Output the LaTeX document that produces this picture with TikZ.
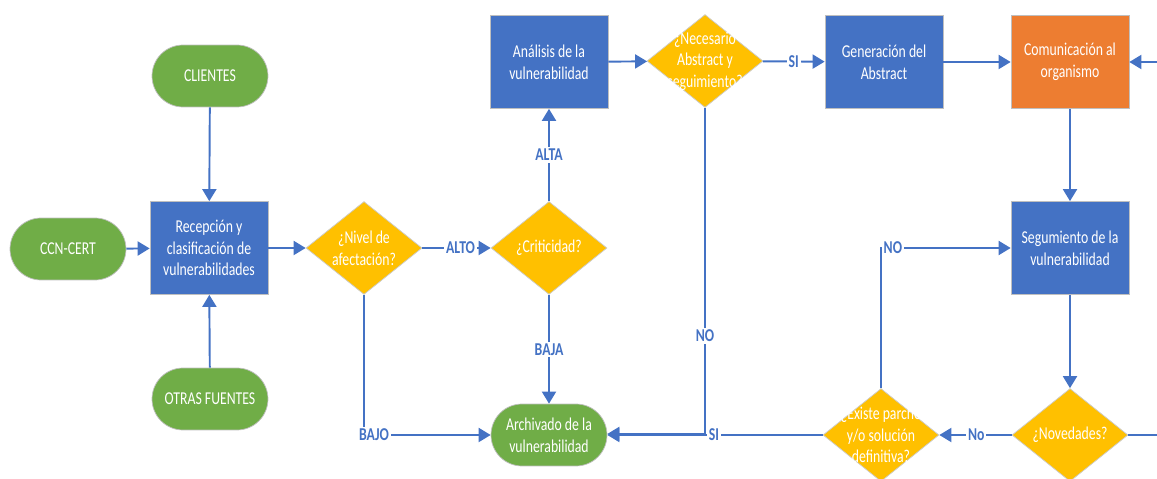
\documentclass[tikz,border=0pt]{standalone}
\usepackage{fontspec}
\setmainfont{Carlito}[FakeStretch=0.76]
\usetikzlibrary{shapes.geometric, arrows.meta}
\definecolor{msblue}{HTML}{4472C4}
\definecolor{msgreen}{HTML}{70AD47}
\definecolor{msyellow}{HTML}{FFC000}
\definecolor{msorange}{HTML}{ED7D31}

\begin{document}
\begin{tikzpicture}[x=0.02cm, y=-0.02cm,
    txt/.style={text=white, align=center, font=\fontsize{10.3}{12.3}\selectfont},
    process/.style={rectangle, fill=msblue, draw=white!75!black, line width=0.4pt,
      minimum width=2.36cm, minimum height=1.86cm, inner sep=0pt, txt},
    terminal/.style={rectangle, rounded corners=0.62cm, fill=msgreen, draw=white!75!black,
      line width=0.4pt, minimum width=2.32cm, minimum height=1.24cm, inner sep=0pt, txt},
    decision/.style={diamond, fill=msyellow, draw=white!80!black, line width=0.4pt,
      minimum width=2.32cm, minimum height=1.86cm, inner sep=0pt},
    lbl/.style={fill=white, inner sep=1pt, text=msblue, font=\bfseries\fontsize{10.3}{12}\selectfont},
    link/.style={draw=msblue, line width=1.1pt},
    flow/.style={link, -{Triangle[length=2.4mm, width=2.8mm]}}]
  % frame
  \useasboundingbox (0,0) rectangle (1157,479);
  % sources
  \node[terminal] (cli) at (210,76) {CLIENTES};
  \node[terminal] (ccn) at (68,249) {CCN-CERT};
  \node[terminal] (otr) at (210,399) {OTRAS FUENTES};
  \node[process] (rec) at (209,248) {Recepción y\\clasificación de\\vulnerabilidades};
  % decisions on the level
  \node[decision] (niv) at (364,248) {};
  \node[txt] (nivT) at (niv) {¿Nivel de\\afectación?};
  \node[decision] (cri) at (549,248) {};
  \node[txt] (criT) at (cri) {¿Criticidad?};
  % analysis branch
  \node[process] (ana) at (549,62) {Análisis de la\\vulnerabilidad};
  \node[decision] (nec) at (705,61) {};
  \node[txt] (necT) at (nec) {¿Necesario\\Abstract y\\seguimiento?};
  \node[process] (gen) at (884,62) {Generación del\\Abstract};
  \node[process, fill=msorange] (com) at (1070,62) {Comunicación al\\organismo};
  \node[process] (seg) at (1070,248) {Segumiento de la\\vulnerabilidad};
  \node[decision] (nov) at (1070,435) {};
  \node[txt] (novT) at (nov) {¿Novedades?};
  \node[decision] (exi) at (881,435) {};
  \node[txt] (exiT) at (exi) {¿Existe parche\\y/o solución\\definitiva?};
  % end
  \node[terminal] (arc) at (549,435) {Archivado de la\\vulnerabilidad};
  % cut at the right edge
  \coordinate (edgeA) at (1157,62);
  \coordinate (edgeB) at (1157,435);

  % connectors
  \draw[flow] (cli) -- (rec);
  \draw[flow] (otr) -- (rec);
  \draw[flow] (ccn) -- (rec);
  \draw[flow] (rec) -- (niv);
  \draw[flow] (niv) -- node[lbl, pos=0.56] {ALTO} (cri);
  \draw[flow] (niv.south) |- node[lbl, pos=0.5, xshift=0.2cm] {BAJO} (arc.west);
  \draw[flow] (cri) -- node[lbl, pos=0.5] {ALTA} (ana);
  \draw[flow] (cri) -- node[lbl, pos=0.5] {BAJA} (arc);
  \draw[flow] (ana) -- (nec);
  \draw[flow] (nec) -- node[lbl, pos=0.5] {SI} (gen);
  \draw[flow] (nec.south) |- node[lbl, pos=0.35] {NO} ([yshift=0.6pt]arc.east);
  \draw[flow] (exi.west) -- node[lbl, pos=0.505] {SI} (arc.east);
  \draw[flow] (gen) -- (com);
  \draw[flow] (edgeA) -- (com);
  \draw[flow] (com) -- (seg);
  \draw[flow] (seg) -- (nov);
  \draw[flow] (nov) -- node[lbl, pos=0.49] {No} (exi);
  \draw[flow] (exi.north) |- node[lbl, pos=0.5, anchor=west] {NO} (seg.west);
  \draw[link] (nov.east) -- (edgeB);
\end{tikzpicture}
\end{document}
